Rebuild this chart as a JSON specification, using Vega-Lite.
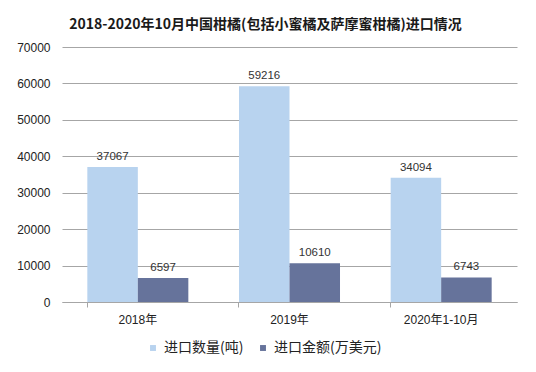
{
  "$schema": "https://vega.github.io/schema/vega-lite/v6.json",
  "autosize": {"type": "none"},
  "width": 455,
  "height": 255,
  "padding": {"left": 62, "top": 47, "right": 19, "bottom": 70},
  "background": "white",
  "config": {
    "font": "Liberation Sans, Noto Sans CJK SC",
    "view": {"stroke": null}
  },
  "title": {
    "text": "2018-2020年10月中国柑橘(包括小蜜橘及萨摩蜜柑橘)进口情况",
    "font": "Noto Sans CJK SC",
    "fontSize": 14,
    "fontWeight": "bold",
    "color": "#1a1a1a",
    "anchor": "middle",
    "dx": -24,
    "offset": 9
  },
  "data": {
    "values": [
      {"year": "2018年", "series": "进口数量(吨)", "value": 37067},
      {"year": "2018年", "series": "进口金额(万美元)", "value": 6597},
      {"year": "2019年", "series": "进口数量(吨)", "value": 59216},
      {"year": "2019年", "series": "进口金额(万美元)", "value": 10610},
      {"year": "2020年1-10月", "series": "进口数量(吨)", "value": 34094},
      {"year": "2020年1-10月", "series": "进口金额(万美元)", "value": 6743}
    ]
  },
  "encoding": {
    "x": {
      "field": "year", "type": "nominal", "sort": null,
      "scale": {"paddingInner": 0.334, "paddingOuter": 0.167},
      "axis": {
        "title": null, "labelAngle": 0, "labelFontSize": 12, "labelColor": "#222",
        "domainColor": "#a6a6a6", "tickColor": "#a6a6a6", "tickSize": 5,
        "bandPosition": 0, "labelPadding": 7, "grid": false
      }
    },
    "xOffset": {"field": "series", "type": "nominal", "sort": null, "scale": {"paddingInner": 0}},
    "y": {
      "field": "value", "type": "quantitative",
      "scale": {"domain": [0, 70000]},
      "axis": {
        "title": null, "values": [0, 10000, 20000, 30000, 40000, 50000, 60000, 70000],
        "format": "d", "domain": false, "ticks": false, "labelPadding": 12,
        "labelFontSize": 12, "labelColor": "#222", "gridColor": "#a6a6a6"
      }
    }
  },
  "layer": [
    {
      "mark": {"type": "bar"},
      "encoding": {
        "color": {
          "field": "series", "type": "nominal", "sort": null,
          "scale": {"range": ["#b8d3ef", "#66739b"]},
          "legend": {
            "title": null, "orient": "none", "direction": "horizontal",
            "legendX": 84, "legendY": 294, "symbolType": "square", "symbolSize": 35,
            "labelFontSize": 14, "labelColor": "#222", "labelFont": "Noto Sans CJK SC",
            "columnPadding": 12, "labelOffset": 4, "symbolStrokeWidth": 0
          }
        }
      }
    },
    {
      "mark": {"type": "text", "dy": -5, "fontSize": 11.5, "color": "#333", "baseline": "bottom"},
      "encoding": {"text": {"field": "value", "type": "quantitative", "format": "d"}}
    }
  ]
}
